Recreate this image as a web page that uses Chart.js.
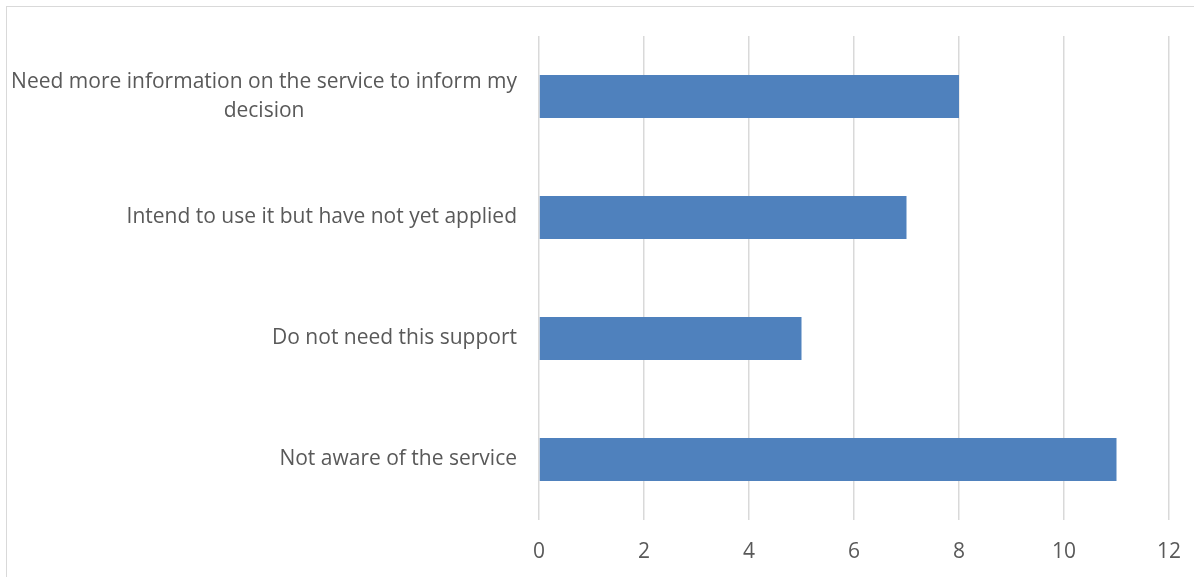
<!DOCTYPE html>
<html>
<head>
<meta charset="utf-8">
<script src="https://cdn.jsdelivr.net/npm/chart.js@4"></script>
<style>
  html, body { margin: 0; padding: 0; background: #fff; }
  #wrap { position: relative; width: 1194px; height: 577px; }
  #frame {
    position: absolute; left: 6px; top: 6px; right: -2px; bottom: -2px;
    border-top: 1.5px solid #d9d9d9; border-left: 1.5px solid #d9d9d9;
  }
  canvas { position: absolute; left: 0; top: 0; }
</style>
</head>
<body>
<div id="wrap">
  <div id="frame"></div>
  <canvas id="my-chart" width="1194" height="577"></canvas>
</div>
<script>
"use strict";
// categories, top to bottom
const categories = [
  ["Need more information on the service to inform my", "decision"],
  "Intend to use it but have not yet applied",
  "Do not need this support",
  "Not aware of the service",
];
const counts = [8, 7, 5, 11];
const tickValues = [0, 2, 4, 6, 8, 10, 12];

const textColor = "#595959";
const gridColor = "#d9d9d9";
const barColor = "#4f81bd";
const labelFont = "21px 'Open Sans'";

// draws the category labels: block right aligned to the axis,
// wrapped lines centred on each other like the original
const categoryLabels = {
  id: "categoryLabels",
  afterDraw(chart) {
    const c = chart.ctx;
    const yScale = chart.scales.y;
    const right = chart.chartArea.left - 22;
    const lineHeight = 29;
    c.save();
    c.font = labelFont;
    c.fillStyle = textColor;
    c.textAlign = "center";
    c.textBaseline = "middle";
    for (let i = 0; i < categories.length; i++) {
      const lines = [].concat(categories[i]);
      let widest = 0;
      for (let j = 0; j < lines.length; j++) {
        widest = Math.max(widest, c.measureText(lines[j]).width);
      }
      const cx = right - widest / 2;
      const cy = yScale.getPixelForValue(i);
      const top = cy - ((lines.length - 1) * lineHeight) / 2;
      for (let j = 0; j < lines.length; j++) {
        c.fillText(lines[j], cx, top + j * lineHeight);
      }
    }
    c.restore();
  },
};

const ctx = document.getElementById("my-chart");

const myChart = new Chart(ctx, {
  type: "bar",
  data: {
    labels: categories,
    datasets: [
      {
        label: "Responses",
        data: counts,
        backgroundColor: barColor,
        borderWidth: 0,
        barPercentage: 1,
        categoryPercentage: 0.355,
      },
    ],
  },
  options: {
    indexAxis: "y",
    responsive: false,
    animation: false,
    layout: {
      padding: { top: 36, right: 25, left: 0, bottom: 0 },
    },
    plugins: {
      legend: { display: false },
      tooltip: { enabled: false },
    },
    scales: {
      x: {
        min: 0,
        max: 12,
        afterBuildTicks: (scale) => {
          scale.ticks = tickValues.map((v) => ({ value: v }));
        },
        afterFit: (scale) => {
          scale.height = 57;
          scale.paddingLeft = 0;
          scale.paddingRight = 0;
        },
        grid: {
          color: gridColor,
          lineWidth: 1.5,
          drawTicks: false,
        },
        border: { display: false },
        ticks: {
          color: textColor,
          padding: 19,
          font: { family: "Open Sans", size: 21 },
        },
      },
      y: {
        afterFit: (scale) => {
          scale.width = 539;
        },
        grid: { display: false, drawTicks: false },
        border: { display: false },
        ticks: { display: false },
      },
    },
  },
  plugins: [categoryLabels],
});
</script>
</body>
</html>
